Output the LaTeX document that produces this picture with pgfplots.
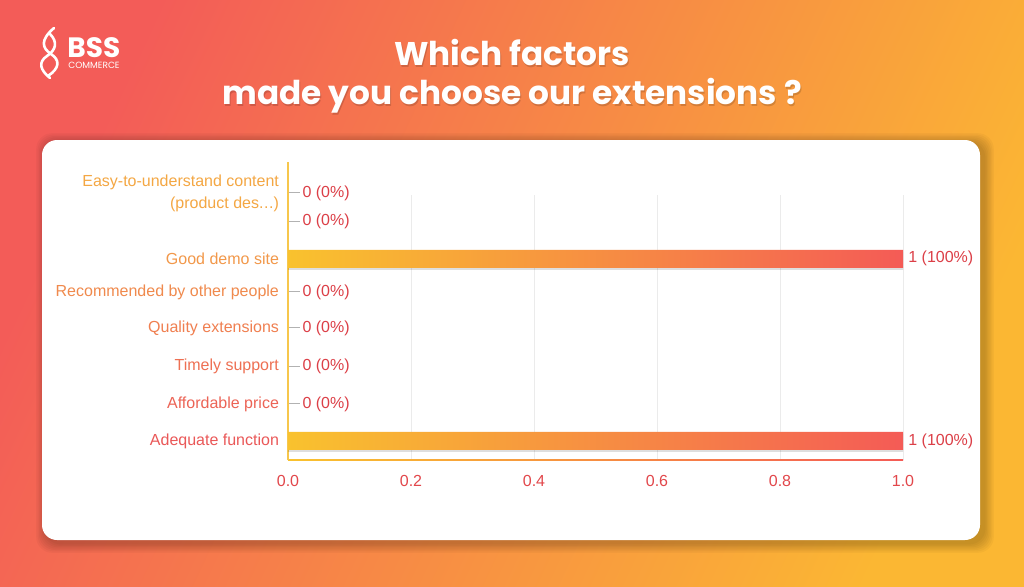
\documentclass[border=0pt]{standalone}
\usepackage{pgfplots}
\pgfplotsset{compat=1.18}
\usepackage{fontspec}
\setmainfont{Liberation Sans}
\newfontfamily\poppins{Poppins}

\definecolor{bgA}{HTML}{F35C58}
\definecolor{bgB}{HTML}{FBB733}
\definecolor{barY}{HTML}{F9C22E}
\definecolor{barR}{HTML}{F45B56}
\definecolor{valred}{HTML}{DC3F47}
\definecolor{tickred}{HTML}{E2474B}
\definecolor{axY}{HTML}{F7C74C}
\definecolor{c0}{HTML}{EA5858}
\definecolor{c1}{HTML}{EC6456}
\definecolor{c2}{HTML}{EE7053}
\definecolor{c3}{HTML}{F07F50}
\definecolor{c4}{HTML}{F08A4D}
\definecolor{c5}{HTML}{F2984A}
\definecolor{c7}{HTML}{F4A743}

\pgfdeclareplotmark{dash}{%
  \pgfpathmoveto{\pgfpoint{0.6pt}{0pt}}%
  \pgfpathlineto{\pgfpoint{6pt}{0pt}}%
  \pgfusepathqstroke}

\begin{document}
\begin{tikzpicture}
\useasboundingbox (0,0) rectangle (512pt,293pt);
% background
\shade[left color=bgA, right color=bgB, shading angle=65] (0,0) rectangle (512pt,293pt);
% card shadow (layered) and card
\foreach \s in {1,2,3,4,5,6,7} {
  \fill[black, opacity=0.03, rounded corners=8pt]
    (21pt+2pt-\s*0.7pt, 23pt-1.5pt-\s*0.7pt) rectangle (490pt+2pt+\s*0.7pt, 223pt-1.5pt+\s*0.7pt);
}
\fill[white, rounded corners=7.5pt] (21pt,23pt) rectangle (490pt,223pt);

% logo
\begin{scope}[white, line width=1.3pt, line cap=round]
\draw (27pt,279pt) .. controls (20pt,273pt) and (21pt,269pt) .. (25.5pt,266pt)
      .. controls (30pt,263pt) and (30pt,259pt) .. (24pt,255pt);
\draw (25pt,276pt) .. controls (29pt,272pt) and (28pt,268pt) .. (23.5pt,265pt)
      .. controls (19pt,262pt) and (20pt,258pt) .. (25pt,254pt);
\end{scope}
\node[anchor=base west, inner sep=0, text=white, font=\poppins\bfseries\fontsize{14}{14}\selectfont]
  at (33.5pt,264.5pt) {BSS};
\node[anchor=base west, inner sep=0, text=white, font=\poppins\fontsize{4.5}{5}\selectfont]
  at (34pt,258.8pt) {COMMERCE};

% title
\node[align=center, text=black, opacity=0.15, font=\poppins\bfseries\fontsize{16.4}{19.5}\selectfont]
  at (256.6pt,254.1pt) {Which factors\\made you choose our extensions ?};
\node[align=center, text=white, font=\poppins\bfseries\fontsize{16.4}{19.5}\selectfont]
  at (256pt,254.7pt) {Which factors\\made you choose our extensions ?};

\begin{axis}[
  at={(144pt,63pt)}, anchor=south west,
  width=307.5pt, height=149pt, scale only axis,
  xmin=0, xmax=1, ymin=-0.528, ymax=7.75,
  axis line style={draw=none},
  major tick length=0,
  clip=false,
  xtick={0,0.2,0.4,0.6,0.8,1},
  xticklabels={0.0,0.2,0.4,0.6,0.8,1.0},
  xticklabel style={text=tickred, font=\fontsize{8}{9}\selectfont, yshift=-4pt},
  ytick={0,1.03,2.08,3.14,4.14,5.06,6.11,6.89},
  yticklabels={
    {\color{c0}Adequate function},
    {\color{c1}Affordable price},
    {\color{c2}Timely support},
    {\color{c3}Quality extensions},
    {\color{c4}Recommended by other people},
    {\color{c5}Good demo site},
    {},
    {\color{c7}Easy-to-understand content\\\color{c7}(product des.\kern0.3pt.\kern0.3pt.)}},
  yticklabel style={align=right, font=\fontsize{8}{11}\selectfont, xshift=-1pt},
]
% grid lines
\pgfplotsinvokeforeach{0.2,0.4,0.6,0.8,1.0}{
  \draw[black!8, line width=0.5pt] (axis cs:#1,-0.528) -- (axis cs:#1,6.83);
}
% axis lines
\shade[left color=barY, right color=barR] (axis cs:0,-0.528) rectangle ([yshift=0.5pt]axis cs:1,-0.528);
\draw[axY, line width=0.7pt] (axis cs:0,-0.528) -- (axis cs:0,7.75);

% bar shadows
\addplot[xbar, bar width=9pt, bar shift=-1pt, draw=none, fill=black, opacity=0.13, forget plot]
  coordinates {(1,0) (1,5.06)};
% bars
\addplot[xbar, bar width=9pt, draw=none, left color=barY, right color=barR,
  point meta=explicit symbolic, nodes near coords,
  nodes near coords align={anchor=west},
  every node near coord/.append style={text=valred, font=\fontsize{8}{9}\selectfont, inner sep=1.5pt, xshift=1pt}]
  coordinates {(1,0) [1 (100\%)] (1,5.06) [1 (100\%)]};

% zero answers
\addplot[only marks, mark=dash, mark options={draw=black!30, line width=0.5pt},
  point meta=explicit symbolic, nodes near coords,
  nodes near coords align={anchor=west},
  every node near coord/.append style={text=valred, font=\fontsize{8}{9}\selectfont, inner sep=0pt, xshift=7pt}]
  coordinates {(0,1.03) [0 (0\%)] (0,2.08) [0 (0\%)] (0,3.14) [0 (0\%)]
               (0,4.14) [0 (0\%)] (0,6.11) [0 (0\%)] (0,6.89) [0 (0\%)]};
\end{axis}
\end{tikzpicture}
\end{document}
